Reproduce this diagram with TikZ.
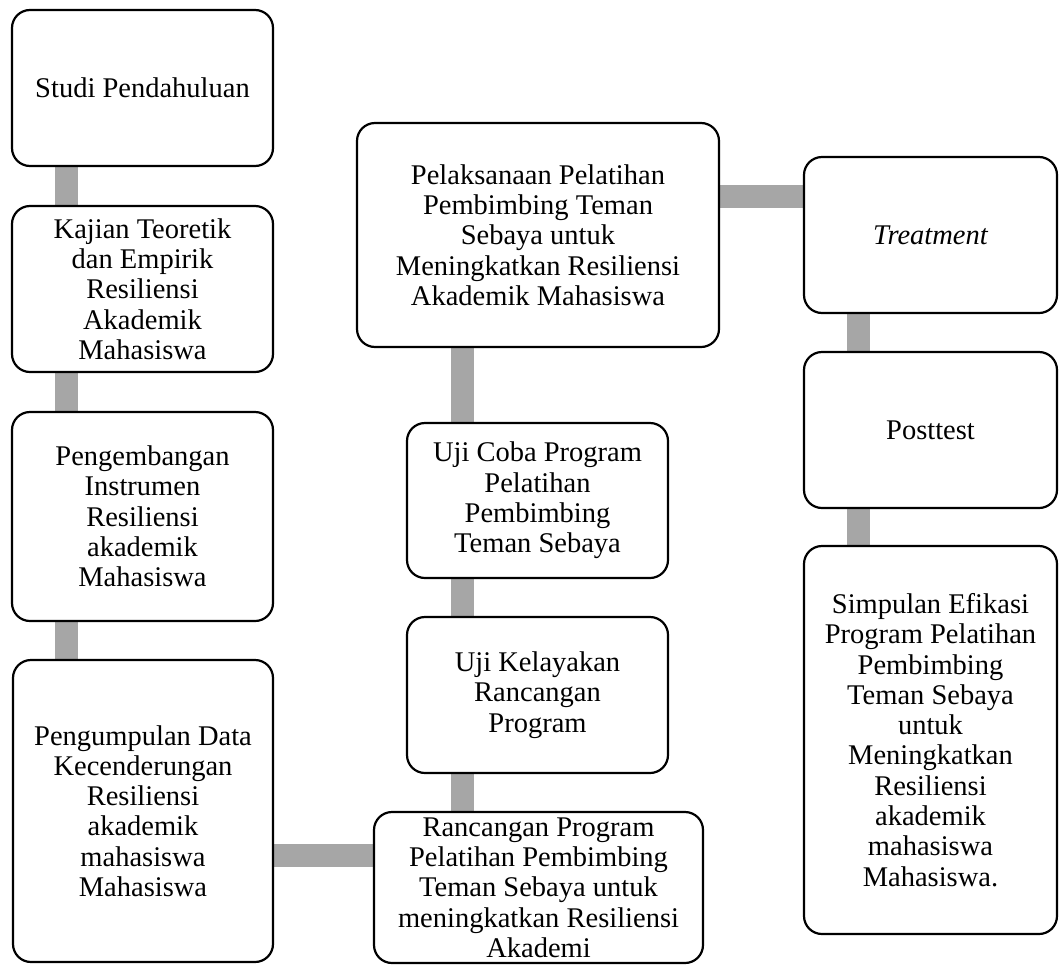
\documentclass[tikz,border=0pt]{standalone}
\usepackage{fontspec}
\setmainfont{Liberation Serif}
\usetikzlibrary{backgrounds}
\definecolor{conngray}{HTML}{A6A6A6}
\begin{document}
\begin{tikzpicture}[x=1pt,y=-1pt,
  box/.style={draw=black, line width=2.2pt, rounded corners=18pt, fill=white,
    align=center, inner sep=0pt, font={\fontsize{28.5}{30.3}\selectfont}},
  conn/.style={draw=conngray, line width=23pt}]
\useasboundingbox (0,0) rectangle (1059,964);
% left column
\node[box, minimum width=261, minimum height=156] (studi) at (142.5,88) {Studi Pendahuluan};
\node[box, minimum width=261, minimum height=166] (kajian) at (142.5,289) {Kajian Teoretik\\dan Empirik\\Resiliensi\\Akademik\\Mahasiswa};
\node[box, minimum width=261, minimum height=209] (pengembangan) at (142.5,516.5) {Pengembangan\\Instrumen\\Resiliensi\\akademik\\Mahasiswa};
\node[box, minimum width=260, minimum height=302] (pengumpulan) at (143,811) {Pengumpulan Data\\Kecenderungan\\Resiliensi\\akademik\\mahasiswa\\Mahasiswa};
% middle column
\node[box, minimum width=329, minimum height=151] (rancangan) at (538.5,887.5) {Rancangan Program\\Pelatihan Pembimbing\\Teman Sebaya untuk\\meningkatkan Resiliensi\\Akademi};
\node[box, minimum width=261, minimum height=156] (kelayakan) at (537.5,695) {Uji Kelayakan\\Rancangan\\Program};
\node[box, minimum width=261, minimum height=155] (ujicoba) at (537.5,500.5) {Uji Coba Program\\Pelatihan\\Pembimbing\\Teman Sebaya};
\node[box, minimum width=362, minimum height=224] (pelaksanaan) at (538,235) {Pelaksanaan Pelatihan\\Pembimbing Teman\\Sebaya untuk\\Meningkatkan Resiliensi\\Akademik Mahasiswa};
% right column
\node[box, minimum width=253, minimum height=156] (treatment) at (930.5,235) {\itshape Treatment};
\node[box, minimum width=253, minimum height=156] (posttest) at (930.5,430) {Posttest};
\node[box, minimum width=253, minimum height=388] (simpulan) at (930.5,740) {Simpulan Efikasi\\Program Pelatihan\\Pembimbing\\Teman Sebaya\\untuk\\Meningkatkan\\Resiliensi\\akademik\\mahasiswa\\Mahasiswa.};
% connector guides
\coordinate (lx) at (66,0);
\coordinate (mx) at (462,0);
\coordinate (rx) at (858,0);
\coordinate (hlow) at (0,855.5);
\coordinate (hup) at (0,196);
\begin{scope}[on background layer]
\draw[conn] (studi.south -| lx) -- (kajian.north -| lx);
\draw[conn] (kajian.south -| lx) -- (pengembangan.north -| lx);
\draw[conn] (pengembangan.south -| lx) -- (pengumpulan.north -| lx);
\draw[conn] (pengumpulan.east |- hlow) -- (rancangan.west |- hlow);
\draw[conn] (rancangan.north -| mx) -- (kelayakan.south -| mx);
\draw[conn] (kelayakan.north -| mx) -- (ujicoba.south -| mx);
\draw[conn] (ujicoba.north -| mx) -- (pelaksanaan.south -| mx);
\draw[conn] (pelaksanaan.east |- hup) -- (treatment.west |- hup);
\draw[conn] (treatment.south -| rx) -- (posttest.north -| rx);
\draw[conn] (posttest.south -| rx) -- (simpulan.north -| rx);
\end{scope}
\end{tikzpicture}
\end{document}
